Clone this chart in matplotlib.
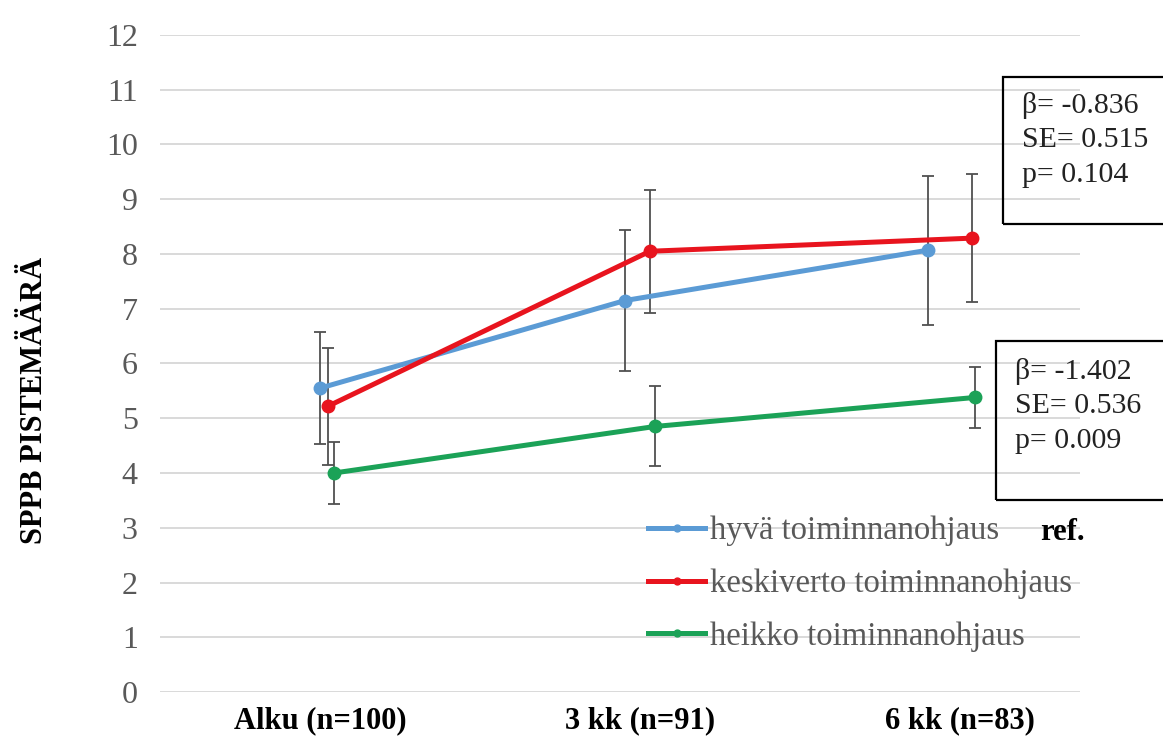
#!/usr/bin/env python3
"""SPPB-pistemäärä toiminnanohjausryhmittäin — viivakaavio virhepalkein"""

import matplotlib

matplotlib.use('Agg')
import matplotlib.pyplot as plt
from matplotlib.patches import Rectangle

plt.rcParams['font.family'] = ['Liberation Serif', 'DejaVu Serif']

# ── Data ──────────────────────────────────────────────────────────────────────
CATEGORIES = ['Alku (n=100)', '3 kk (n=91)', '6 kk (n=83)']
SERIES = ['hyvä toiminnanohjaus', 'keskiverto toiminnanohjaus', 'heikko toiminnanohjaus']

HYVA_MEAN = [5.55, 7.15, 8.07]
HYVA_ERR = [1.02, 1.28, 1.36]
KESKI_MEAN = [5.22, 8.05, 8.29]
KESKI_ERR = [1.07, 1.12, 1.17]
HEIKKO_MEAN = [4.00, 4.85, 5.38]
HEIKKO_ERR = [0.57, 0.73, 0.56]

STATS_1 = ['β= -0.836', 'SE= 0.515', 'p= 0.104']
STATS_2 = ['β= -1.402', 'SE= 0.536', 'p= 0.009']

# ── Style ─────────────────────────────────────────────────────────────────────
COLORS = ['#5B9BD5', '#E8141E', '#1BA257']
OFFSETS = [[0.0, -0.047, -0.10], [0.025, 0.031, 0.038], [0.044, 0.047, 0.047]]
GRID_C = '#D9D9D9'
TICK_C = '#595959'
ERR_C = '#505050'

# ── Canvas ────────────────────────────────────────────────────────────────────
FW, FH = 1163, 737
fig = plt.figure(figsize=(FW / 100, FH / 100), dpi=100)
fig.patch.set_facecolor('white')
ax = fig.add_axes([160 / FW, 45 / FH, 920 / FW, 657 / FH])

means = [HYVA_MEAN, KESKI_MEAN, HEIKKO_MEAN]
errs = [HYVA_ERR, KESKI_ERR, HEIKKO_ERR]
for name, m, e, off, c in zip(SERIES, means, errs, OFFSETS, COLORS):
    xs = [i + o for i, o in enumerate(off)]
    ax.errorbar(xs, m, yerr=e, fmt='none', ecolor=ERR_C, elinewidth=1.3,
                capsize=4.5, capthick=1.3, zorder=2)
    ax.plot(xs, m, color=c, lw=3.6, marker='o', ms=9, label=name, zorder=3)

ax.set_xlim(-0.5, 2.375)
ax.set_ylim(0, 12)
ax.set_yticks(range(0, 13))
ax.yaxis.grid(True, color=GRID_C, lw=1.4)
ax.set_axisbelow(True)
for s in ax.spines.values():
    s.set_visible(False)
ax.tick_params(axis='y', length=0, pad=16, labelsize=23, labelcolor=TICK_C)
ax.set_xticks(range(len(CATEGORIES)))
ax.set_xticklabels(CATEGORIES, fontsize=22, fontweight='bold', color='black')
ax.tick_params(axis='x', length=0, pad=10)

# y-axis title sits a little below the axes centre in the original
fig.text(35 / FW, 1 - 400 / FH, 'SPPB PISTEMÄÄRÄ', rotation=90, fontsize=22,
         fontweight='bold', ha='center', va='center')

# ── Legend ────────────────────────────────────────────────────────────────────
handles, labels = ax.get_legend_handles_labels()
leg = ax.legend(handles, labels, loc='upper left', frameon=False,
                bbox_to_anchor=(648 / FW, 1 - 516 / FH), bbox_transform=fig.transFigure,
                fontsize=23.5, handlelength=1.75, handletextpad=0.15, labelspacing=0.68,
                borderpad=0, borderaxespad=0, markerscale=0.55)
for t in leg.get_texts():
    t.set_color(TICK_C)
fig.text(1040 / FW, 1 - 532 / FH, 'ref.', fontsize=22, fontweight='bold',
         ha='left', va='center')

# ── Stats boxes ───────────────────────────────────────────────────────────────
def stats_box(x0, y0, y1, tx, ty, lines):
    fig.patches.append(Rectangle((x0 / FW, 1 - y1 / FH), (FW - x0 + 10) / FW, (y1 - y0) / FH,
                                 transform=fig.transFigure, fill=False,
                                 edgecolor='black', lw=1.6))
    fig.text(tx / FW, 1 - ty / FH, '\n'.join(lines), fontsize=21.5,
             ha='left', va='top', linespacing=1.42, color='#222222')

stats_box(1003, 77, 224, 1022, 92, STATS_1)
stats_box(996, 341, 500, 1015, 358, STATS_2)

fig.savefig('out.png', dpi=100, facecolor='white')
